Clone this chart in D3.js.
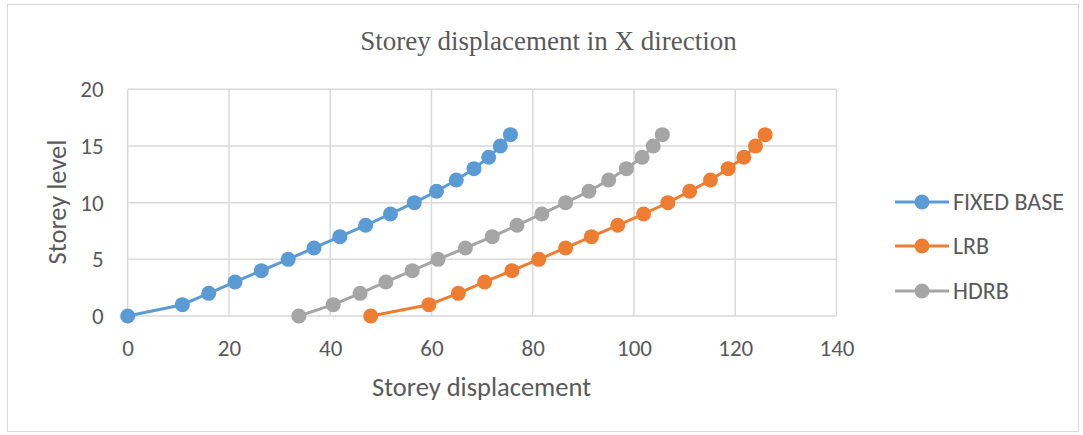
<!DOCTYPE html>
<html>
<head>
<meta charset="utf-8">
<script src="https://cdn.jsdelivr.net/npm/d3@7"></script>
<style>
  html, body { margin: 0; padding: 0; background: #fff; }
  svg { display: block; }
  text { fill: #595959; }
</style>
</head>
<body>
<svg id="chart" width="1083" height="435"></svg>
<script>
// Storey levels (y) and displacements (x) for each base condition
const storeys = [0, 1, 2, 3, 4, 5, 6, 7, 8, 9, 10, 11, 12, 13, 14, 15, 16];
const fixedBase = [0, 10.8, 16.0, 21.2, 26.4, 31.7, 36.8, 41.9, 47.0, 51.9, 56.6, 61.0, 64.9, 68.4, 71.3, 73.6, 75.6];
const lrb = [48.0, 59.5, 65.3, 70.5, 75.9, 81.2, 86.5, 91.6, 96.8, 101.9, 106.7, 111.0, 115.1, 118.6, 121.7, 124.0, 125.9];
const hdrb = [33.8, 40.6, 45.9, 51.0, 56.2, 61.3, 66.7, 72.0, 76.9, 81.8, 86.5, 91.1, 95.0, 98.5, 101.6, 103.8, 105.6];
const seriesNames = ["FIXED BASE", "LRB", "HDRB"];
const seriesColors = ["#5B9BD5", "#ED7D31", "#A5A5A5"];
const xTicks = [0, 20, 40, 60, 80, 100, 120, 140];
const yTicks = [0, 5, 10, 15, 20];

const series = [fixedBase, lrb, hdrb].map((vals, i) => ({
  name: seriesNames[i],
  color: seriesColors[i],
  points: vals.map((v, j) => ({ x: v, y: storeys[j] }))
}));

const svg = d3.select("#chart");
const sans = "Carlito, 'Open Sans', 'Liberation Sans', sans-serif";

// outer frame
svg.append("rect")
  .attr("x", 7.5).attr("y", 4.5).attr("width", 1071).attr("height", 427)
  .attr("fill", "#fff").attr("stroke", "#D9D9D9").attr("stroke-width", 1);

const plot = { left: 127.7, right: 836.5, top: 89.3, bottom: 316 };
const x = d3.scaleLinear().domain([0, 140]).range([plot.left, plot.right]);
const y = d3.scaleLinear().domain([0, 20]).range([plot.bottom, plot.top]);

// gridlines
const grid = svg.append("g");
grid.selectAll("line.v").data(xTicks).join("line")
  .attr("x1", d => x(d)).attr("x2", d => x(d))
  .attr("y1", plot.top).attr("y2", plot.bottom)
  .attr("stroke", "#D9D9D9").attr("stroke-width", 1.5);
grid.selectAll("line.h").data(yTicks).join("line")
  .attr("y1", d => y(d)).attr("y2", d => y(d))
  .attr("x1", plot.left).attr("x2", plot.right)
  .attr("stroke", "#D9D9D9").attr("stroke-width", 1.5);

// axes (labels only, no domain line)
const xAxis = svg.append("g")
  .attr("transform", `translate(0,${plot.bottom})`)
  .call(d3.axisBottom(x).tickValues(xTicks).tickSize(0).tickPadding(26));
const yAxis = svg.append("g")
  .attr("transform", `translate(${plot.left},0)`)
  .call(d3.axisLeft(y).tickValues(yTicks).tickSize(0).tickPadding(24));
[xAxis, yAxis].forEach(a => {
  a.select(".domain").remove();
  a.selectAll("text").attr("font-family", sans).attr("font-size", 23).attr("fill", "#595959");
});
xAxis.selectAll("text").attr("dy", "0.6em");
yAxis.selectAll("text").attr("dy", "0.33em");

// series lines and markers
const line = d3.line().x(d => x(d.x)).y(d => y(d.y));
series.forEach(s => {
  const g = svg.append("g");
  g.append("path").datum(s.points)
    .attr("d", line).attr("fill", "none")
    .attr("stroke", s.color).attr("stroke-width", 3).attr("stroke-linejoin", "round");
  g.selectAll("circle").data(s.points).join("circle")
    .attr("cx", d => x(d.x)).attr("cy", d => y(d.y)).attr("r", 7.5)
    .attr("fill", s.color);
});

// title
svg.append("text")
  .attr("x", 548.5).attr("y", 50).attr("text-anchor", "middle")
  .attr("font-family", "'Liberation Serif', 'Times New Roman', serif")
  .attr("font-size", 27).text("Storey displacement in X direction");

// axis titles
svg.append("text")
  .attr("x", 481.5).attr("y", 396).attr("text-anchor", "middle")
  .attr("font-family", sans).attr("font-size", 26.5).text("Storey displacement");
svg.append("text")
  .attr("transform", "translate(66,202) rotate(-90)").attr("text-anchor", "middle")
  .attr("font-family", sans).attr("font-size", 26.5).text("Storey level");

// legend
const legendY = [202, 246, 291];
const legend = svg.append("g");
series.forEach((s, i) => {
  const g = legend.append("g").attr("transform", `translate(0,${legendY[i]})`);
  g.append("line").attr("x1", 895).attr("x2", 949).attr("y1", 0).attr("y2", 0)
    .attr("stroke", s.color).attr("stroke-width", 3);
  g.append("circle").attr("cx", 922).attr("cy", 0).attr("r", 7.5).attr("fill", s.color);
  g.append("text").attr("x", 953).attr("y", 0).attr("dy", "0.33em")
    .attr("font-family", sans).attr("font-size", 24).text(s.name);
});
</script>
</body>
</html>
